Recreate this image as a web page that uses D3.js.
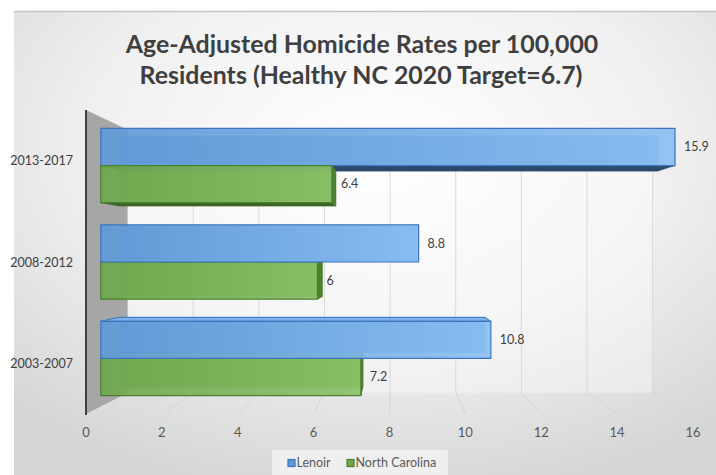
<!DOCTYPE html>
<html>
<head>
<meta charset="utf-8">
<script src="https://cdn.jsdelivr.net/npm/d3@7"></script>
<style>
  html, body { margin: 0; padding: 0; background: #ffffff; }
  svg { display: block; }
  text { font-family: Lato, "Open Sans", "DejaVu Sans", sans-serif; }
</style>
</head>
<body>
<svg id="chart" width="716" height="475"></svg>
<script>
// ---- data ----
const categories = ["2013-2017", "2008-2012", "2003-2007"];
const seriesNames = ["Lenoir", "North Carolina"];
const lenoirRates = [15.9, 8.8, 10.8];
const northCarolinaRates = [6.4, 6, 7.2];
const xTickValues = [0, 2, 4, 6, 8, 10, 12, 14, 16];
const titleLines = [
  "Age-Adjusted Homicide Rates per 100,000",
  "Residents (Healthy NC 2020 Target=6.7)"
];

const rows = categories.map((c, i) => ({
  category: c,
  values: [
    { series: seriesNames[0], value: lenoirRates[i] },
    { series: seriesNames[1], value: northCarolinaRates[i] }
  ]
}));

// ---- styles ----
const W = 716, H = 475;
const palette = {
  "Lenoir": { a: "#6099d6", b: "#8abff2", stroke: "#3b76bd", side: "#4a82c2", top: "#7cb1ea", bottom: "#2d4969" },
  "North Carolina": { a: "#6ea74d", b: "#89c068", stroke: "#4b8030", side: "#4e8233", top: "#86bd65", bottom: "#3c6525" }
};

const svg = d3.select("#chart");
const defs = svg.append("defs");

// chart area background
const bg = defs.append("radialGradient").attr("id", "bgGrad")
  .attr("cx", "52%").attr("cy", "30%").attr("r", "75%");
bg.append("stop").attr("offset", "0%").attr("stop-color", "#ffffff");
bg.append("stop").attr("offset", "55%").attr("stop-color", "#f0f0f0");
bg.append("stop").attr("offset", "100%").attr("stop-color", "#d6d6d6");

seriesNames.forEach((s, i) => {
  const g = defs.append("linearGradient").attr("id", "barGrad" + i)
    .attr("x1", "0%").attr("x2", "100%").attr("y1", "0%").attr("y2", "0%");
  g.append("stop").attr("offset", "0%").attr("stop-color", palette[s].a);
  g.append("stop").attr("offset", "100%").attr("stop-color", palette[s].b);
});

svg.append("rect").attr("x", 14).attr("y", 11).attr("width", W - 14).attr("height", H - 11)
  .attr("fill", "url(#bgGrad)");
svg.append("line").attr("x1", 14).attr("x2", W).attr("y1", 11.5).attr("y2", 11.5)
  .attr("stroke", "#c4c4c4").attr("stroke-width", 1.5);

// ---- scales (front plane) ----
const x = d3.scaleLinear().domain([0, 16]).range([86, 693]);
const y = d3.scaleBand().domain(categories).range([122, 402.6]).paddingInner(0.23);
const ySeries = d3.scaleBand().domain(seriesNames).range([0, y.bandwidth()]);
const plotTop = 110, plotFloor = 414;

// simple perspective: depth factor s (1 = front plane) shrinks toward the vanishing point
const VP = [394, 256];
const sWall = 0.865, sFront = 0.952, sBack = 0.894;
const P = (px, py, s) => [VP[0] + (px - VP[0]) * s, VP[1] + (py - VP[1]) * s];
const poly = pts => "M" + pts.map(p => p[0].toFixed(2) + "," + p[1].toFixed(2)).join("L") + "Z";

// ---- walls, gridlines, floor ----
const gWalls = svg.append("g");
gWalls.append("path")
  .attr("d", poly([P(x(0), plotTop, sWall), P(x(16), plotTop, sWall), P(x(16), plotFloor, sWall), P(x(0), plotFloor, sWall)]))
  .attr("fill", "#ffffff").attr("fill-opacity", 0.35);

xTickValues.filter(v => v > 0).forEach(v => {
  const top = P(x(v), plotTop, sWall), bot = P(x(v), plotFloor, sWall), front = P(x(v), plotFloor, 1);
  gWalls.append("line").attr("x1", top[0]).attr("y1", top[1]).attr("x2", bot[0]).attr("y2", bot[1])
    .attr("stroke", "#d9d9d9").attr("stroke-width", 1);
  gWalls.append("line").attr("x1", bot[0]).attr("y1", bot[1]).attr("x2", front[0]).attr("y2", front[1])
    .attr("stroke", "#d4d4d4").attr("stroke-width", 1);
});

// side wall
gWalls.append("path")
  .attr("d", poly([P(x(0), plotTop, 1), P(x(0), plotTop, sWall), P(x(0), plotFloor, sWall), P(x(0), plotFloor, 1)]))
  .attr("fill", "#a6a6a6");
gWalls.append("line").attr("x1", x(0)).attr("x2", x(0)).attr("y1", plotTop).attr("y2", plotFloor + 1)
  .attr("stroke", "#404040").attr("stroke-width", 2);

// ---- bars ----
const gBars = svg.append("g");
rows.forEach(row => {
  const items = row.values.map((d, j) => {
    const y0 = y(row.category) + ySeries(d.series), y1 = y0 + ySeries.bandwidth();
    return { ...d, j, y0, y1, x0: x(0), x1: x(d.value), dist: Math.abs((y0 + y1) / 2 - VP[1]) };
  }).sort((a, b) => b.dist - a.dist);

  items.forEach(d => {
    const c = palette[d.series];
    const F = (px, py) => P(px, py, sFront), B = (px, py) => P(px, py, sBack);
    const g = gBars.append("g");
    // hidden back outline, faintly visible through the translucent front
    g.append("path").attr("d", poly([B(d.x0, d.y0), B(d.x1, d.y0), B(d.x1, d.y1), B(d.x0, d.y1)]))
      .attr("fill", c.a).attr("stroke", c.stroke).attr("stroke-opacity", 0.45).attr("stroke-width", 1);
    if (d.y1 < VP[1]) {
      g.append("path").attr("d", poly([F(d.x0, d.y1), F(d.x1, d.y1), B(d.x1, d.y1), B(d.x0, d.y1)]))
        .attr("fill", c.bottom).attr("stroke", c.bottom).attr("stroke-width", 0.5);
    }
    if (d.y0 > VP[1]) {
      g.append("path").attr("d", poly([F(d.x0, d.y0), F(d.x1, d.y0), B(d.x1, d.y0), B(d.x0, d.y0)]))
        .attr("fill", c.top).attr("stroke", c.stroke).attr("stroke-width", 1);
    }
    if (d.x1 < VP[0]) {
      g.append("path").attr("d", poly([F(d.x1, d.y0), B(d.x1, d.y0), B(d.x1, d.y1), F(d.x1, d.y1)]))
        .attr("fill", c.side).attr("stroke", c.stroke).attr("stroke-width", 1);
    }
    g.append("path").attr("d", poly([F(d.x0, d.y0), F(d.x1, d.y0), F(d.x1, d.y1), F(d.x0, d.y1)]))
      .attr("fill", "url(#barGrad" + d.j + ")").attr("fill-opacity", 0.92)
      .attr("stroke", c.stroke).attr("stroke-width", 1.2);
    // value label
    const lp = F(d.x1, (d.y0 + d.y1) / 2);
    svg.append("text").attr("x", lp[0] + 9).attr("y", lp[1]).attr("dy", "0.35em")
      .attr("font-size", 12.5).attr("fill", "#404040").text(d.value);
  });
});

// ---- axes labels ----
svg.append("g").selectAll("text").data(xTickValues).join("text")
  .attr("x", d => x(d)).attr("y", 432).attr("dy", "0.35em").attr("text-anchor", "middle")
  .attr("font-size", 13).attr("fill", "#595959").text(d => d);

svg.append("g").selectAll("text").data(categories).join("text")
  .attr("x", 73).attr("y", d => y(d) + y.bandwidth() / 2).attr("dy", "0.35em").attr("text-anchor", "end")
  .attr("font-size", 12.5).attr("fill", "#404040").text(d => d);

// ---- title ----
const titleG = svg.append("g");
const t1 = titleG.append("text").attr("x", 362).attr("y", 53).attr("text-anchor", "middle")
  .attr("font-size", 24).attr("font-weight", 700).attr("fill", "#3f3f3f").text(titleLines[0]);
const fitSize = 24 * 473 / t1.node().getComputedTextLength();
t1.attr("font-size", fitSize);
titleG.append("text").attr("x", 361).attr("y", 84).attr("text-anchor", "middle")
  .attr("font-size", fitSize).attr("font-weight", 700).attr("fill", "#3f3f3f").text(titleLines[1]);

// ---- legend ----
const legend = svg.append("g");
legend.append("rect").attr("x", 272).attr("y", 450).attr("width", 176).attr("height", 25)
  .attr("fill", "#efefef");
const legendX = [288, 347];
seriesNames.forEach((s, i) => {
  legend.append("rect").attr("x", legendX[i]).attr("y", 459.5).attr("width", 7).attr("height", 7)
    .attr("fill", palette[s].a).attr("stroke", palette[s].stroke).attr("stroke-width", 1.2);
  legend.append("text").attr("x", legendX[i] + 8.5).attr("y", 463).attr("dy", "0.35em")
    .attr("font-size", 12.5).attr("fill", "#595959").text(s);
});
</script>
</body>
</html>
